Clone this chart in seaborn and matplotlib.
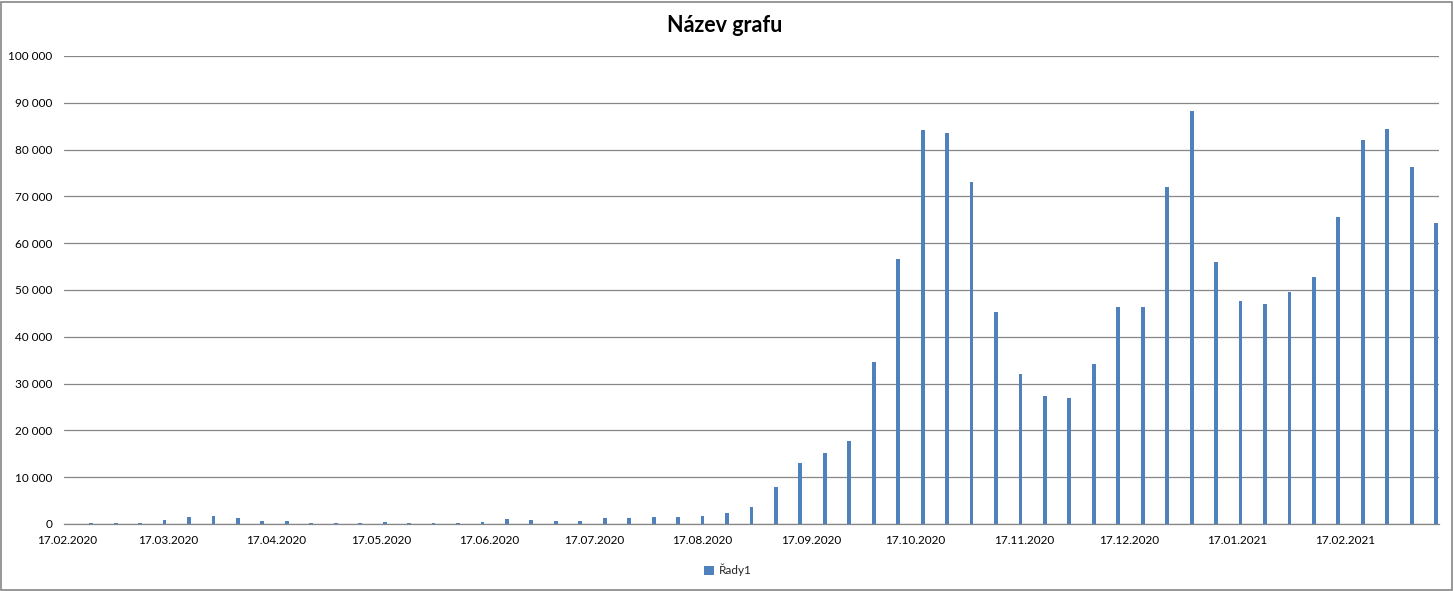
import matplotlib
matplotlib.use("Agg")
import matplotlib.pyplot as plt
import matplotlib.dates as mdates
from matplotlib.patches import Rectangle, Patch
from matplotlib.ticker import FuncFormatter, MultipleLocator
import seaborn as sns
import pandas as pd
import numpy as np

# ---- data ----
week_start = "2020-02-24"
n_weeks = 56
values = [210, 210, 210, 850, 1490, 1700, 1280, 640, 640, 210,
          210, 210, 430, 210, 210, 210, 430, 1060, 850, 640,
          640, 1280, 1280, 1490, 1490, 1700, 2340, 3620, 7940, 13050,
          15180, 17730, 34540, 56670, 84110, 83480, 73050, 45390, 31990, 27300,
          26880, 34110, 46450, 46450, 71990, 88160, 56030, 47730, 47090, 49650,
          52840, 65600, 81990, 84330, 76240, 64330]
tick_dates = ["2020-02-17", "2020-03-17", "2020-04-17", "2020-05-17", "2020-06-17",
              "2020-07-17", "2020-08-17", "2020-09-17", "2020-10-17", "2020-11-17",
              "2020-12-17", "2021-01-17", "2021-02-17"]
series_name = "Řady1"
title = "Název grafu"

dates = pd.date_range(week_start, periods=n_weeks, freq="7D")
df = pd.DataFrame({"x": mdates.date2num(dates), "y": values, "s": series_name})

W, H = 1454, 591
sns.set_theme(style="white")
plt.rcParams["font.family"] = ["Lato", "DejaVu Sans"]

fig = plt.figure(figsize=(W / 100, H / 100), dpi=100)
fig.patch.set_facecolor("white")
ax = fig.add_axes([64 / W, (H - 524) / H, (1439 - 64) / W, (524 - 56) / H])

blue = "#4F81BD"
grid = "#868686"

sns.barplot(data=df, x="x", y="y", native_scale=True, color=blue,
            width=1.1 / 7, ax=ax, errorbar=None, linewidth=0, saturation=1)

x0 = mdates.date2num(pd.Timestamp("2020-02-17")) - 0.77
x1 = mdates.date2num(pd.Timestamp("2020-02-17")) + 392.8
ax.set_xlim(x0, x1)
ax.set_ylim(0, 100000)

ax.yaxis.set_major_locator(MultipleLocator(10000))
ax.yaxis.set_major_formatter(FuncFormatter(lambda v, p: f"{int(round(v)):,}".replace(",", " ")))
ax.set_xticks(mdates.date2num(pd.to_datetime(tick_dates)))
ax.xaxis.set_major_formatter(mdates.DateFormatter("%d.%m.%Y"))

ax.grid(axis="y", color=grid, linewidth=0.9)
ax.set_axisbelow(True)
for s in ["top", "right", "left"]:
    ax.spines[s].set_visible(False)
ax.spines["bottom"].set_color(grid)
ax.spines["bottom"].set_linewidth(0.9)
ax.spines["bottom"].set_zorder(5)
ax.tick_params(axis="both", length=0, labelsize=8.5, labelcolor="#000000")
ax.tick_params(axis="y", pad=8.2)
ax.tick_params(axis="x", pad=8)
ax.set_xlabel("")
ax.set_ylabel("")

fig.text(725 / W, 1 - 26 / H, title, ha="center", va="center",
         fontsize=15.5, fontweight="bold", color="#000000")

handle = Patch(facecolor=blue, edgecolor="none")
fig.legend([handle], [series_name], loc="center", bbox_to_anchor=(728 / W, 1 - 570 / H),
           frameon=False, fontsize=8.5, handlelength=0.8, handleheight=0.8, handletextpad=0.4)

fig.add_artist(Rectangle((0.5 / W, 1.5 / H), 1451.5 / W, 588 / H, transform=fig.transFigure,
                         fill=False, edgecolor=grid, linewidth=1.2))

fig.savefig("out.png", dpi=100)
